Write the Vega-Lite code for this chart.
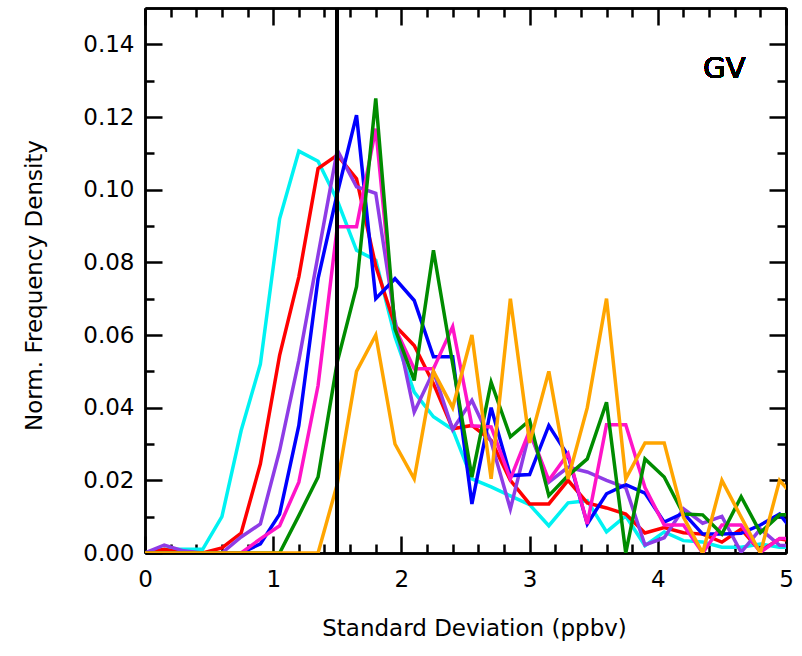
{
  "$schema": "https://vega.github.io/schema/vega-lite/v6.json",
  "width": 641,
  "height": 545,
  "autosize": {"type": "none"},
  "padding": {"left": 145, "top": 8, "right": 16, "bottom": 103},
  "background": "white",
  "config": {
    "view": {"stroke": null},
    "font": "DejaVu Sans",
    "axis": {
      "domainColor": "black", "domainWidth": 2.5, "tickColor": "black", "tickWidth": 2.5,
      "labelColor": "black", "labelFont": "DejaVu Sans", "labelFontSize": 23,
      "titleFont": "DejaVu Sans", "titleFontSize": 23, "titleFontWeight": "normal", "titleColor": "black",
      "grid": false
    }
  },
  "data": {"values": [
{"series":"A","sd":0,"density":0},{"series":"A","sd":0.15,"density":0.001},{"series":"A","sd":0.3,"density":0.001},{"series":"A","sd":0.45,"density":0.001},{"series":"A","sd":0.6,"density":0.01},{"series":"A","sd":0.75,"density":0.0337},{"series":"A","sd":0.9,"density":0.052},{"series":"A","sd":1.05,"density":0.092},{"series":"A","sd":1.2,"density":0.1106},{"series":"A","sd":1.35,"density":0.1078},{"series":"A","sd":1.5,"density":0.097},{"series":"A","sd":1.65,"density":0.0833},{"series":"A","sd":1.8,"density":0.0806},{"series":"A","sd":1.95,"density":0.0595},{"series":"A","sd":2.1,"density":0.0443},{"series":"A","sd":2.25,"density":0.0375},{"series":"A","sd":2.4,"density":0.034},{"series":"A","sd":2.55,"density":0.0204},{"series":"A","sd":2.7,"density":0.0182},{"series":"A","sd":2.85,"density":0.0157},{"series":"A","sd":3,"density":0.0133},{"series":"A","sd":3.15,"density":0.0075},{"series":"A","sd":3.3,"density":0.0138},{"series":"A","sd":3.45,"density":0.0144},{"series":"A","sd":3.6,"density":0.0058},{"series":"A","sd":3.75,"density":0.0102},{"series":"A","sd":3.9,"density":0.002},{"series":"A","sd":4.05,"density":0.0058},{"series":"A","sd":4.2,"density":0.0034},{"series":"A","sd":4.35,"density":0.003},{"series":"A","sd":4.5,"density":0.0016},{"series":"A","sd":4.65,"density":0.0016},{"series":"A","sd":4.8,"density":0.0025},{"series":"A","sd":4.95,"density":0.0016},{"series":"A","sd":5.1,"density":0.0015},
{"series":"B","sd":0,"density":0},{"series":"B","sd":0.15,"density":0.001},{"series":"B","sd":0.3,"density":0},{"series":"B","sd":0.45,"density":0},{"series":"B","sd":0.6,"density":0.0014},{"series":"B","sd":0.75,"density":0.0055},{"series":"B","sd":0.9,"density":0.0245},{"series":"B","sd":1.05,"density":0.0544},{"series":"B","sd":1.2,"density":0.076},{"series":"B","sd":1.35,"density":0.1058},{"series":"B","sd":1.5,"density":0.1095},{"series":"B","sd":1.65,"density":0.103},{"series":"B","sd":1.8,"density":0.079},{"series":"B","sd":1.95,"density":0.0626},{"series":"B","sd":2.1,"density":0.0571},{"series":"B","sd":2.25,"density":0.0466},{"series":"B","sd":2.4,"density":0.0342},{"series":"B","sd":2.55,"density":0.0351},{"series":"B","sd":2.7,"density":0.031},{"series":"B","sd":2.85,"density":0.02},{"series":"B","sd":3,"density":0.0135},{"series":"B","sd":3.15,"density":0.0135},{"series":"B","sd":3.3,"density":0.02},{"series":"B","sd":3.45,"density":0.0138},{"series":"B","sd":3.6,"density":0.0124},{"series":"B","sd":3.75,"density":0.0107},{"series":"B","sd":3.9,"density":0.0055},{"series":"B","sd":4.05,"density":0.007},{"series":"B","sd":4.2,"density":0.0056},{"series":"B","sd":4.35,"density":0.0052},{"series":"B","sd":4.5,"density":0.003},{"series":"B","sd":4.65,"density":0.0066},{"series":"B","sd":4.8,"density":0.0005},{"series":"B","sd":4.95,"density":0.0039},{"series":"B","sd":5.1,"density":0.003},
{"series":"C","sd":0,"density":0},{"series":"C","sd":0.15,"density":0.0022},{"series":"C","sd":0.3,"density":0.0006},{"series":"C","sd":0.45,"density":0},{"series":"C","sd":0.6,"density":0},{"series":"C","sd":0.75,"density":0.0044},{"series":"C","sd":0.9,"density":0.008},{"series":"C","sd":1.05,"density":0.0282},{"series":"C","sd":1.2,"density":0.053},{"series":"C","sd":1.35,"density":0.082},{"series":"C","sd":1.5,"density":0.1109},{"series":"C","sd":1.65,"density":0.1008},{"series":"C","sd":1.8,"density":0.099},{"series":"C","sd":1.95,"density":0.064},{"series":"C","sd":2.1,"density":0.0388},{"series":"C","sd":2.25,"density":0.05},{"series":"C","sd":2.4,"density":0.034},{"series":"C","sd":2.55,"density":0.042},{"series":"C","sd":2.7,"density":0.0306},{"series":"C","sd":2.85,"density":0.0121},{"series":"C","sd":3,"density":0.0333},{"series":"C","sd":3.15,"density":0.0195},{"series":"C","sd":3.3,"density":0.0236},{"series":"C","sd":3.45,"density":0.0223},{"series":"C","sd":3.6,"density":0.02},{"series":"C","sd":3.75,"density":0.018},{"series":"C","sd":3.9,"density":0.0022},{"series":"C","sd":4.05,"density":0.0042},{"series":"C","sd":4.2,"density":0.0122},{"series":"C","sd":4.35,"density":0.0082},{"series":"C","sd":4.5,"density":0.0101},{"series":"C","sd":4.65,"density":0.0002},{"series":"C","sd":4.8,"density":0.0066},{"series":"C","sd":4.95,"density":0.0021},{"series":"C","sd":5.1,"density":0.002},
{"series":"D","sd":0,"density":0},{"series":"D","sd":0.15,"density":0},{"series":"D","sd":0.3,"density":0},{"series":"D","sd":0.45,"density":0},{"series":"D","sd":0.6,"density":0},{"series":"D","sd":0.75,"density":0},{"series":"D","sd":0.9,"density":0.0025},{"series":"D","sd":1.05,"density":0.0107},{"series":"D","sd":1.2,"density":0.0351},{"series":"D","sd":1.35,"density":0.0755},{"series":"D","sd":1.5,"density":0.099},{"series":"D","sd":1.65,"density":0.1205},{"series":"D","sd":1.8,"density":0.07},{"series":"D","sd":1.95,"density":0.0755},{"series":"D","sd":2.1,"density":0.0695},{"series":"D","sd":2.25,"density":0.054},{"series":"D","sd":2.4,"density":0.054},{"series":"D","sd":2.55,"density":0.0135},{"series":"D","sd":2.7,"density":0.04},{"series":"D","sd":2.85,"density":0.0213},{"series":"D","sd":3,"density":0.0216},{"series":"D","sd":3.15,"density":0.0351},{"series":"D","sd":3.3,"density":0.0268},{"series":"D","sd":3.45,"density":0.008},{"series":"D","sd":3.6,"density":0.0163},{"series":"D","sd":3.75,"density":0.0188},{"series":"D","sd":3.9,"density":0.0165},{"series":"D","sd":4.05,"density":0.0085},{"series":"D","sd":4.2,"density":0.011},{"series":"D","sd":4.35,"density":0.0052},{"series":"D","sd":4.5,"density":0.0052},{"series":"D","sd":4.65,"density":0.0054},{"series":"D","sd":4.8,"density":0.0077},{"series":"D","sd":4.95,"density":0.0107},{"series":"D","sd":5.1,"density":0.004},
{"series":"E","sd":0,"density":0},{"series":"E","sd":0.15,"density":0},{"series":"E","sd":0.3,"density":0},{"series":"E","sd":0.45,"density":0},{"series":"E","sd":0.6,"density":0},{"series":"E","sd":0.75,"density":0},{"series":"E","sd":0.9,"density":0.0039},{"series":"E","sd":1.05,"density":0.0075},{"series":"E","sd":1.2,"density":0.0195},{"series":"E","sd":1.35,"density":0.0461},{"series":"E","sd":1.5,"density":0.0898},{"series":"E","sd":1.65,"density":0.0898},{"series":"E","sd":1.8,"density":0.1168},{"series":"E","sd":1.95,"density":0.062},{"series":"E","sd":2.1,"density":0.0507},{"series":"E","sd":2.25,"density":0.0507},{"series":"E","sd":2.4,"density":0.0623},{"series":"E","sd":2.55,"density":0.035},{"series":"E","sd":2.7,"density":0.0347},{"series":"E","sd":2.85,"density":0.0204},{"series":"E","sd":3,"density":0.0337},{"series":"E","sd":3.15,"density":0.02},{"series":"E","sd":3.3,"density":0.0273},{"series":"E","sd":3.45,"density":0.008},{"series":"E","sd":3.6,"density":0.0353},{"series":"E","sd":3.75,"density":0.0353},{"series":"E","sd":3.9,"density":0.018},{"series":"E","sd":4.05,"density":0.0077},{"series":"E","sd":4.2,"density":0.0077},{"series":"E","sd":4.35,"density":0},{"series":"E","sd":4.5,"density":0.0077},{"series":"E","sd":4.65,"density":0.0077},{"series":"E","sd":4.8,"density":0.0002},{"series":"E","sd":4.95,"density":0.004},{"series":"E","sd":5.1,"density":0.004},
{"series":"F","sd":0,"density":0},{"series":"F","sd":0.15,"density":0},{"series":"F","sd":0.3,"density":0},{"series":"F","sd":0.45,"density":0},{"series":"F","sd":0.6,"density":0},{"series":"F","sd":0.75,"density":0},{"series":"F","sd":0.9,"density":0},{"series":"F","sd":1.05,"density":0},{"series":"F","sd":1.2,"density":0.0103},{"series":"F","sd":1.35,"density":0.0209},{"series":"F","sd":1.5,"density":0.0526},{"series":"F","sd":1.65,"density":0.0733},{"series":"F","sd":1.8,"density":0.1251},{"series":"F","sd":1.95,"density":0.0617},{"series":"F","sd":2.1,"density":0.0475},{"series":"F","sd":2.25,"density":0.0833},{"series":"F","sd":2.4,"density":0.052},{"series":"F","sd":2.55,"density":0.0209},{"series":"F","sd":2.7,"density":0.047},{"series":"F","sd":2.85,"density":0.032},{"series":"F","sd":3,"density":0.0365},{"series":"F","sd":3.15,"density":0.0158},{"series":"F","sd":3.3,"density":0.0213},{"series":"F","sd":3.45,"density":0.0259},{"series":"F","sd":3.6,"density":0.0415},{"series":"F","sd":3.75,"density":0},{"series":"F","sd":3.9,"density":0.0259},{"series":"F","sd":4.05,"density":0.0209},{"series":"F","sd":4.2,"density":0.0107},{"series":"F","sd":4.35,"density":0.0105},{"series":"F","sd":4.5,"density":0.0052},{"series":"F","sd":4.65,"density":0.0155},{"series":"F","sd":4.8,"density":0.0056},{"series":"F","sd":4.95,"density":0.0105},{"series":"F","sd":5.1,"density":0.0105},
{"series":"G","sd":0,"density":0},{"series":"G","sd":0.15,"density":0},{"series":"G","sd":0.3,"density":0},{"series":"G","sd":0.45,"density":0},{"series":"G","sd":0.6,"density":0},{"series":"G","sd":0.75,"density":0},{"series":"G","sd":0.9,"density":0},{"series":"G","sd":1.05,"density":0},{"series":"G","sd":1.2,"density":0},{"series":"G","sd":1.35,"density":0},{"series":"G","sd":1.5,"density":0.019},{"series":"G","sd":1.65,"density":0.05},{"series":"G","sd":1.8,"density":0.06},{"series":"G","sd":1.95,"density":0.03},{"series":"G","sd":2.1,"density":0.0204},{"series":"G","sd":2.25,"density":0.05},{"series":"G","sd":2.4,"density":0.04},{"series":"G","sd":2.55,"density":0.06},{"series":"G","sd":2.7,"density":0.0204},{"series":"G","sd":2.85,"density":0.07},{"series":"G","sd":3,"density":0.0303},{"series":"G","sd":3.15,"density":0.05},{"series":"G","sd":3.3,"density":0.0204},{"series":"G","sd":3.45,"density":0.04},{"series":"G","sd":3.6,"density":0.07},{"series":"G","sd":3.75,"density":0.0204},{"series":"G","sd":3.9,"density":0.0303},{"series":"G","sd":4.05,"density":0.0303},{"series":"G","sd":4.2,"density":0.0099},{"series":"G","sd":4.35,"density":0},{"series":"G","sd":4.5,"density":0.02},{"series":"G","sd":4.65,"density":0.0099},{"series":"G","sd":4.8,"density":0},{"series":"G","sd":4.95,"density":0.02},{"series":"G","sd":5.1,"density":0.014}
  ]},
  "resolve": {"axis": {"x": "independent", "y": "independent"}},
  "layer": [
    {
      "mark": {"type": "line", "strokeWidth": 3.5, "clip": true},
      "encoding": {
        "x": {"field": "sd", "type": "quantitative",
              "scale": {"domain": [0, 5], "nice": false, "zero": false},
              "axis": {"orient": "bottom", "values": [0, 1, 2, 3, 4, 5], "format": "d", "tickSize": -17, "labelPadding": 32,
                       "title": "Standard Deviation (ppbv)", "titlePadding": 26, "titleX": 329, "labelFlush": false}},
        "y": {"field": "density", "type": "quantitative",
              "scale": {"domain": [0, 0.15], "nice": false, "zero": true},
              "axis": {"orient": "left", "values": [0, 0.02, 0.04, 0.06, 0.08, 0.1, 0.12, 0.14], "format": ".2f", "tickSize": -17, "labelPadding": 28,
                       "title": "Norm. Frequency Density", "titlePadding": 36, "titleY": 277, "labelFlush": false}},
        "color": {"field": "series", "type": "nominal", "legend": null,
                  "scale": {"domain": ["A", "B", "C", "D", "E", "F", "G"],
                            "range": ["#00F2F2", "#FF0000", "#8E3CE6", "#0000FF", "#FF14C8", "#008C00", "#FFA500"]}}
      }
    },
    {
      "mark": {"type": "rule", "color": "black", "strokeWidth": 3},
      "encoding": {
        "x": {"datum": 1.5, "type": "quantitative",
              "axis": {"orient": "bottom", "values": [0.2, 0.4, 0.6, 0.8, 1.2, 1.4, 1.6, 1.8, 2.2, 2.4, 2.6, 2.8, 3.2, 3.4, 3.6, 3.8, 4.2, 4.4, 4.6, 4.8], "tickSize": -9, "labels": false, "title": null}},
        "y": {"datum": 0, "type": "quantitative",
              "axis": {"orient": "left", "values": [0.01, 0.03, 0.05, 0.07, 0.09, 0.11, 0.13], "tickSize": -9, "labels": false, "title": null}},
        "y2": {"datum": 0.15}
      }
    },
    {
      "mark": {"type": "text", "text": "GV", "fontSize": 29, "fontWeight": "normal", "font": "DejaVu Sans", "color": "black", "align": "center", "baseline": "middle"},
      "encoding": {
        "x": {"datum": 4.52, "type": "quantitative",
              "axis": {"orient": "top", "values": [0, 1, 2, 3, 4, 5], "tickSize": -17, "labels": false, "title": null}},
        "y": {"datum": 0.1333, "type": "quantitative",
              "axis": {"orient": "right", "values": [0, 0.02, 0.04, 0.06, 0.08, 0.1, 0.12, 0.14], "tickSize": -17, "labels": false, "title": null}}
      }
    },
    {
      "mark": {"type": "rule", "color": "black", "strokeWidth": 3},
      "encoding": {
        "x": {"datum": 1.5, "type": "quantitative",
              "axis": {"orient": "top", "values": [0.2, 0.4, 0.6, 0.8, 1.2, 1.4, 1.6, 1.8, 2.2, 2.4, 2.6, 2.8, 3.2, 3.4, 3.6, 3.8, 4.2, 4.4, 4.6, 4.8], "tickSize": -9, "labels": false, "title": null}},
        "y": {"datum": 0, "type": "quantitative",
              "axis": {"orient": "right", "values": [0.01, 0.03, 0.05, 0.07, 0.09, 0.11, 0.13], "tickSize": -9, "labels": false, "title": null}},
        "y2": {"datum": 0.15}
      }
    }
  ]
}
